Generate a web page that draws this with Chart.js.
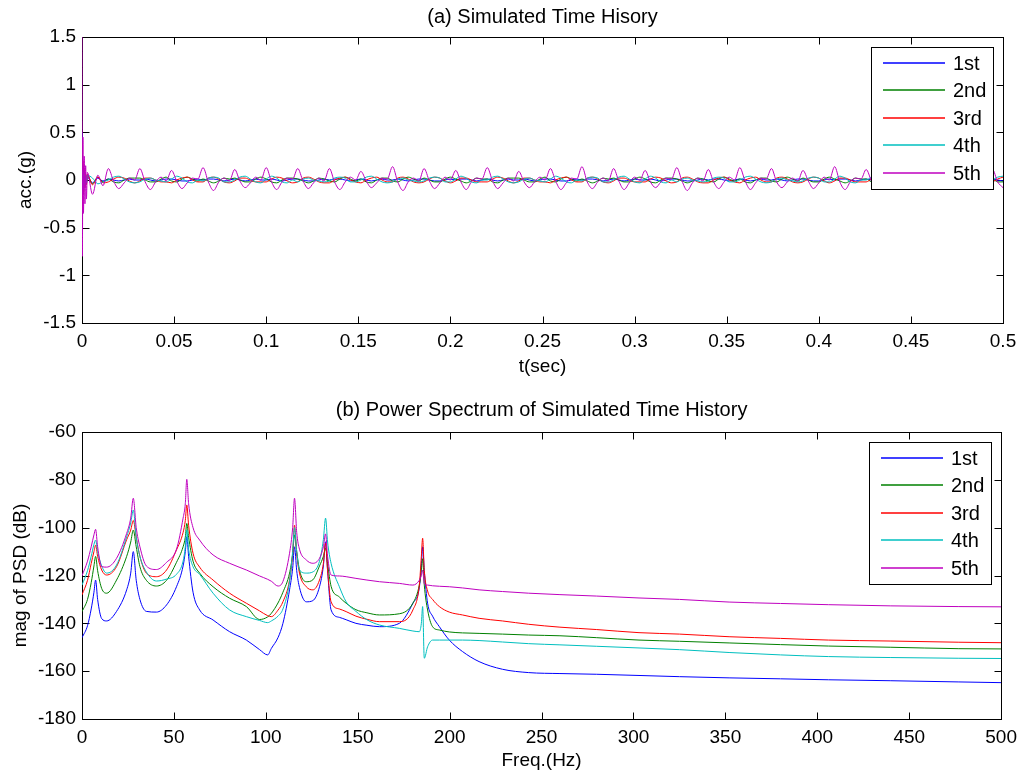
<!DOCTYPE html>
<html>
<head>
<meta charset="utf-8">
<title>Simulated Time History</title>
<script src="https://cdn.jsdelivr.net/npm/chart.js@4.4.0/dist/chart.umd.min.js"></script>
<style>
  body { margin: 0; background: #fff; }
  #wrap { position: relative; width: 1024px; height: 776px; }
  #timeChart { position: absolute; left: 0; top: 0; }
  #psdChart { position: absolute; left: 0; top: 388px; }
</style>
</head>
<body>
<div id="wrap">
  <canvas id="timeChart" width="1024" height="388"></canvas>
  <canvas id="psdChart" width="1024" height="388"></canvas>
</div>
<script>
const modeNames = ['1st', '2nd', '3rd', '4th', '5th'];

// (a) time history, seconds
const timeSec = [
  0, 0.0002, 0.0005, 0.0008, 0.0012, 0.0016, 0.002, 0.0024,
  0.0029, 0.0057, 0.0086, 0.0114, 0.0143, 0.0171, 0.02,
  0.0229, 0.0257, 0.0286, 0.0314, 0.0343, 0.0371, 0.04,
  0.0429, 0.0457, 0.0486, 0.0514, 0.0543, 0.0571, 0.06,
  0.0629, 0.0657, 0.0686, 0.0714, 0.0743, 0.0771, 0.08,
  0.0829, 0.0857, 0.0886, 0.0914, 0.0943, 0.0971, 0.1,
  0.1029, 0.1057, 0.1086, 0.1114, 0.1143, 0.1171, 0.12,
  0.1229, 0.1257, 0.1286, 0.1314, 0.1343, 0.1371, 0.14,
  0.1429, 0.1457, 0.1486, 0.1514, 0.1543, 0.1571, 0.16,
  0.1629, 0.1657, 0.1686, 0.1714, 0.1743, 0.1771, 0.18,
  0.1829, 0.1857, 0.1886, 0.1914, 0.1943, 0.1971, 0.2,
  0.2029, 0.2057, 0.2086, 0.2114, 0.2143, 0.2171, 0.22,
  0.2229, 0.2257, 0.2286, 0.2314, 0.2343, 0.2371, 0.24,
  0.2429, 0.2457, 0.2486, 0.2514, 0.2543, 0.2571, 0.26,
  0.2629, 0.2657, 0.2686, 0.2714, 0.2743, 0.2771, 0.28,
  0.2829, 0.2857, 0.2886, 0.2914, 0.2943, 0.2971, 0.3,
  0.3029, 0.3057, 0.3086, 0.3114, 0.3143, 0.3171, 0.32,
  0.3229, 0.3257, 0.3286, 0.3314, 0.3343, 0.3371, 0.34,
  0.3429, 0.3457, 0.3486, 0.3514, 0.3543, 0.3571, 0.36,
  0.3629, 0.3657, 0.3686, 0.3714, 0.3743, 0.3771, 0.38,
  0.3829, 0.3857, 0.3886, 0.3914, 0.3943, 0.3971, 0.4,
  0.4029, 0.4057, 0.4086, 0.4114, 0.4143, 0.4171, 0.42,
  0.4229, 0.4257, 0.4286, 0.4314, 0.4343, 0.4371, 0.44,
  0.4429, 0.4457, 0.4486, 0.4514, 0.4543, 0.4571, 0.46,
  0.4629, 0.4657, 0.4686, 0.4714, 0.4743, 0.4771, 0.48,
  0.4829, 0.4857, 0.4886, 0.4914, 0.4943, 0.4971, 0.5
];

const accel1st = [
  0.5, -0.25, 0.15, -0.1, 0.08, -0.06, 0.05, -0.04,
  0.03, -0.03, 0.02, -0.01,
  0.01, 0, -0.01, 0, 0.01, 0,
  0, 0.01, 0, -0.01, 0, 0.01,
  0.01, 0, -0.01, -0.01, 0, 0.01,
  0, 0.01, 0.01, 0, -0.01, 0,
  0.01, 0, -0.01, 0, 0.01, 0,
  0, 0.01, 0, -0.01, 0, 0.01,
  0.01, 0, -0.01, -0.01, 0, 0.01,
  0, 0.01, 0.01, 0, -0.01, 0,
  0.01, 0, -0.01, 0, 0.01, 0,
  0, 0.01, 0, -0.01, 0, 0.01,
  0.01, 0, -0.01, -0.01, 0, 0.01,
  0, 0.01, 0.01, 0, -0.01, 0,
  0.01, 0, -0.01, 0, 0.01, 0,
  0, 0.01, 0, -0.01, 0, 0.01,
  0.01, 0, -0.01, -0.01, 0, 0.01,
  0, 0.01, 0.01, 0, -0.01, 0,
  0.01, 0, -0.01, 0, 0.01, 0,
  0, 0.01, 0, -0.01, 0, 0.01,
  0.01, 0, -0.01, -0.01, 0, 0.01,
  0, 0.01, 0.01, 0, -0.01, 0,
  0.01, 0, -0.01, 0, 0.01, 0,
  0, 0.01, 0, -0.01, 0, 0.01,
  0.01, 0, -0.01, -0.01, 0, 0.01,
  0, 0.01, 0.01, 0, -0.01, 0,
  0.01, 0, -0.01, 0, 0.01, 0,
  0, 0.01, 0, -0.01, 0, 0.01,
  0.01, 0, -0.01, -0.01, 0, 0.01,
  0, 0.01, 0.01, 0, -0.01, 0,
  0.01, 0, -0.01
];

const accel2nd = [
  0.3, -0.2, 0.1, -0.12, 0.06, -0.05, 0.04, -0.03,
  0.05, -0.04, 0.03, -0.02,
  0.01, -0.02, -0.03, 0, 0.02, 0.02,
  0.02, 0, -0.02, -0.02, 0.01, 0.03,
  -0.01, -0.02, 0.01, 0.03, 0.01, -0.01,
  0.01, -0.01, -0.03, -0.01, 0.02, 0.01,
  0.02, 0, -0.02, -0.02, 0.01, 0.03,
  0.01, -0.02, -0.03, 0, 0.02, 0.02,
  0.01, -0.01, -0.03, -0.01, 0.02, 0.01,
  -0.01, -0.02, 0.01, 0.03, 0.01, -0.01,
  0.01, -0.02, -0.03, 0, 0.02, 0.02,
  -0.01, -0.02, 0.01, 0.03, 0.01, -0.01,
  0.02, 0, -0.02, -0.02, 0.01, 0.03,
  0.01, -0.01, -0.03, -0.01, 0.02, 0.01,
  0.01, -0.02, -0.03, 0, 0.02, 0.02,
  0.02, 0, -0.02, -0.02, 0.01, 0.03,
  -0.01, -0.02, 0.01, 0.03, 0.01, -0.01,
  0.01, -0.01, -0.03, -0.01, 0.02, 0.01,
  0.02, 0, -0.02, -0.02, 0.01, 0.03,
  0.01, -0.02, -0.03, 0, 0.02, 0.02,
  0.01, -0.01, -0.03, -0.01, 0.02, 0.01,
  -0.01, -0.02, 0.01, 0.03, 0.01, -0.01,
  0.01, -0.02, -0.03, 0, 0.02, 0.02,
  -0.01, -0.02, 0.01, 0.03, 0.01, -0.01,
  0.02, 0, -0.02, -0.02, 0.01, 0.03,
  0.01, -0.01, -0.03, -0.01, 0.02, 0.01,
  0.01, -0.02, -0.03, 0, 0.02, 0.02,
  0.02, 0, -0.02, -0.02, 0.01, 0.03,
  -0.01, -0.02, 0.01, 0.03, 0.01, -0.01,
  0.01, -0.01, -0.03, -0.01, 0.02, 0.01,
  0.01, -0.02, -0.02
];

const accel3rd = [
  0.4, -0.3, 0.2, -0.15, 0.1, -0.08, 0.06, -0.05,
  0.06, -0.05, 0.03, -0.03,
  -0.02, 0.01, 0.03, 0.02, -0.01, -0.03,
  -0.01, 0.02, 0.02, 0, -0.02, -0.02,
  -0.03, 0, 0.02, 0.03, 0, -0.02,
  -0.02, 0.02, 0.03, 0.01, -0.02, -0.03,
  -0.01, 0.02, 0.02, 0, -0.02, -0.02,
  -0.02, 0.01, 0.03, 0.02, -0.01, -0.03,
  -0.02, 0.02, 0.03, 0.01, -0.02, -0.03,
  -0.03, 0, 0.02, 0.03, 0, -0.02,
  -0.03, 0, 0.02, 0.03, 0, -0.02,
  -0.02, 0.02, 0.03, 0.01, -0.02, -0.03,
  -0.02, 0.01, 0.03, 0.02, -0.01, -0.03,
  -0.01, 0.02, 0.02, 0, -0.02, -0.02,
  -0.02, 0.01, 0.03, 0.02, -0.01, -0.03,
  -0.01, 0.02, 0.02, 0, -0.02, -0.02,
  -0.03, 0, 0.02, 0.03, 0, -0.02,
  -0.02, 0.02, 0.03, 0.01, -0.02, -0.03,
  -0.01, 0.02, 0.02, 0, -0.02, -0.02,
  -0.02, 0.01, 0.03, 0.02, -0.01, -0.03,
  -0.02, 0.02, 0.03, 0.01, -0.02, -0.03,
  -0.03, 0, 0.02, 0.03, 0, -0.02,
  -0.03, 0, 0.02, 0.03, 0, -0.02,
  -0.02, 0.02, 0.03, 0.01, -0.02, -0.03,
  -0.02, 0.01, 0.03, 0.02, -0.01, -0.03,
  -0.01, 0.02, 0.02, 0, -0.02, -0.02,
  -0.02, 0.01, 0.03, 0.02, -0.01, -0.03,
  -0.01, 0.02, 0.02, 0, -0.02, -0.02,
  -0.03, 0, 0.02, 0.03, 0, -0.02,
  -0.02, 0.02, 0.03, 0.01, -0.02, -0.03,
  -0.02, 0.01, 0.03
];

const accel4th = [
  0.2, -0.15, 0.1, -0.1, 0.06, -0.05, 0.04, -0.03,
  0.05, 0.02, -0.04, -0.02,
  0, 0.03, 0.04, 0.01, -0.02, -0.03,
  -0.02, 0.01, 0.02, 0, -0.01, -0.02,
  0.01, 0.04, 0.02, -0.02, -0.03, 0,
  -0.01, 0.02, 0.03, 0.02, -0.02, -0.02,
  0, 0.03, 0.04, 0.01, -0.02, -0.03,
  0.01, 0.04, 0.02, -0.02, -0.03, 0,
  -0.02, 0.01, 0.02, 0, -0.01, -0.02,
  -0.01, 0.02, 0.03, 0.02, -0.02, -0.02,
  0, 0.03, 0.04, 0.01, -0.02, -0.03,
  -0.02, 0.01, 0.02, 0, -0.01, -0.02,
  -0.01, 0.02, 0.03, 0.02, -0.02, -0.02,
  0.01, 0.04, 0.02, -0.02, -0.03, 0,
  0, 0.03, 0.04, 0.01, -0.02, -0.03,
  -0.02, 0.01, 0.02, 0, -0.01, -0.02,
  0.01, 0.04, 0.02, -0.02, -0.03, 0,
  -0.01, 0.02, 0.03, 0.02, -0.02, -0.02,
  0, 0.03, 0.04, 0.01, -0.02, -0.03,
  0.01, 0.04, 0.02, -0.02, -0.03, 0,
  -0.02, 0.01, 0.02, 0, -0.01, -0.02,
  -0.01, 0.02, 0.03, 0.02, -0.02, -0.02,
  0, 0.03, 0.04, 0.01, -0.02, -0.03,
  -0.02, 0.01, 0.02, 0, -0.01, -0.02,
  -0.01, 0.02, 0.03, 0.02, -0.02, -0.02,
  0.01, 0.04, 0.02, -0.02, -0.03, 0,
  0, 0.03, 0.04, 0.01, -0.02, -0.03,
  -0.02, 0.01, 0.02, 0, -0.01, -0.02,
  0.01, 0.04, 0.02, -0.02, -0.03, 0,
  -0.01, 0.02, 0.03, 0.02, -0.02, -0.02,
  0, 0.03, 0.04
];

const accel5th = [
  1.5, -0.8, 0.45, -0.35, 0.25, -0.25, 0.15, -0.2,
  0.08, -0.15, 0.05, -0.06,
  0.12, -0.01, -0.09, -0.03, 0.02, 0,
  0.12, -0.02, -0.1, -0.02, 0.03, -0.01,
  0.1, -0.01, -0.09, -0.03, 0.02, 0.01,
  0.13, -0.02, -0.11, -0.02, 0.02, -0.01,
  0.11, -0.01, -0.08, -0.03, 0.03, 0,
  0.13, -0.02, -0.1, -0.02, 0.02, 0.01,
  0.12, -0.01, -0.09, -0.03, 0.02, -0.01,
  0.12, -0.02, -0.1, -0.02, 0.03, 0,
  0.09, -0.01, -0.08, -0.03, 0.02, 0.01,
  0.14, -0.02, -0.11, -0.02, 0.02, -0.01,
  0.12, -0.01, -0.09, -0.03, 0.03, 0,
  0.1, -0.02, -0.1, -0.02, 0.02, 0.01,
  0.13, -0.01, -0.09, -0.03, 0.02, -0.01,
  0.09, -0.02, -0.08, -0.02, 0.03, 0,
  0.12, -0.01, -0.1, -0.03, 0.02, 0.01,
  0.14, -0.02, -0.09, -0.02, 0.02, -0.01,
  0.12, -0.01, -0.1, -0.03, 0.03, 0,
  0.1, -0.02, -0.08, -0.02, 0.02, 0.01,
  0.13, -0.01, -0.11, -0.03, 0.02, -0.01,
  0.11, -0.02, -0.09, -0.02, 0.03, 0,
  0.13, -0.01, -0.1, -0.03, 0.02, 0.01,
  0.12, -0.02, -0.08, -0.02, 0.02, -0.01,
  0.1, -0.01, -0.09, -0.03, 0.03, 0,
  0.14, -0.02, -0.1, -0.02, 0.02, 0.01,
  0.11, -0.01, -0.09, -0.03, 0.02, -0.01,
  0.13, -0.02, -0.1, -0.02, 0.03, 0,
  0.1, -0.01, -0.08, -0.03, 0.02, 0.01,
  0.12, -0.02, -0.1, -0.02, 0.02, -0.01,
  0.11, -0.02, -0.08
];

const timeTickLabels = ['0', '0.05', '0.1', '0.15', '0.2', '0.25', '0.3', '0.35', '0.4', '0.45', '0.5'];
const accTickLabels = ['-1.5', '-1', '-0.5', '0', '0.5', '1', '1.5'];

// (b) power spectrum, Hz / dB
const freqHz = [
  0, 3, 5, 6.5, 7.4, 8.5, 10.7, 13.4, 18.8, 24.3,
  26.5, 27.9, 29.5, 31.5, 35, 40.5, 46, 51.4, 55, 56.2,
  57, 58, 60.4, 64, 71.3, 80.3, 89.4, 96.6, 101, 103,
  106.6, 109.3, 112.9, 114.6, 115.6, 116.8, 118.3, 122, 125.6, 129.2,
  131.3, 132.5, 133.6, 135.5, 140, 143.7, 149, 155, 161.8, 172.6,
  180, 183.5, 184.6, 185.3, 186.2, 188, 190.7, 194.4, 199.8, 207,
  216, 228.7, 243, 260, 280, 303, 325, 352, 380, 406,
  440, 477, 500
];

const psd1st = [
  -146, -141, -134, -127, -121.9, -130, -138, -139, -135, -126,
  -119, -110, -122, -130, -135, -135.3, -132.3, -124.7, -116, -110,
  -103.8, -112, -127, -134.4, -138.6, -143.5, -147, -151, -153.2, -150.5,
  -146, -140, -126, -117, -108, -118, -125, -131, -130.5, -124.7,
  -116, -105.9, -118, -134.4, -137.5, -138.5, -140, -140.8, -141.4, -140,
  -131.6, -125, -116, -108, -118, -131.6, -137, -141.4, -147, -151.8,
  -156, -159.2, -160.6, -161, -161.3, -161.8, -162.3, -162.8, -163.2, -163.6,
  -164, -164.5, -164.8
];

const psd2nd = [
  -135.1, -130, -123, -116, -112, -118, -125.4, -127.4, -121.9, -112,
  -106, -101, -108, -116.3, -122, -124.4, -122, -114.5, -108, -104,
  -98.2, -104, -114, -119, -124.7, -129.5, -133, -138.4, -137.3, -135.8,
  -131.5, -127, -119, -111, -103, -110, -117.7, -122.6, -121.8, -116,
  -112, -108.6, -115, -124.5, -129, -131.6, -134.3, -135.6, -136.5, -136,
  -131.6, -124, -118, -113, -124, -134.4, -141.4, -142.8, -143.6, -144,
  -144.2, -144.5, -144.9, -145.2, -146, -147, -147.5, -148.2, -148.9, -149.5,
  -150, -150.6, -150.7
];

const psd3rd = [
  -128.1, -122, -115, -110, -107.3, -112, -117.7, -119.8, -116.3, -105,
  -101, -97, -104, -112, -119, -120.5, -117.7, -109.3, -102, -97,
  -90.5, -99, -110.7, -116.5, -121.9, -127.4, -131.6, -134.8, -136.8, -137.2,
  -134.5, -131, -121.9, -111, -99, -111, -119, -124.7, -126, -121.9,
  -115, -106.5, -118, -131, -134, -135.1, -137, -138.3, -139.3, -139.3,
  -134.4, -124, -112, -104.4, -118, -126.5, -130, -133, -135.3, -136.5,
  -137.9, -139, -140.4, -141.6, -142.6, -143.9, -144.5, -145.6, -146.3, -147,
  -147.4, -147.9, -148.1
];

const psd4th = [
  -124, -118, -112, -107, -105.2, -110, -116, -119, -115.6, -103.8,
  -98, -92.6, -104, -112, -118.5, -122.3, -121.5, -119.5, -114, -108,
  -101, -109, -116.3, -119.5, -127.4, -134.4, -137.2, -138.8, -139.7, -139,
  -137, -134, -122.6, -110, -100, -110, -117.7, -119, -118.5, -114,
  -105, -96, -106, -114.9, -124.7, -131, -135, -138.5, -140.7, -142.1,
  -143.2, -143.5, -140, -133, -154.6, -149.8, -147, -147, -147, -147,
  -147.2, -147.8, -148.5, -149, -149.6, -150.3, -151, -152.2, -153.2, -153.9,
  -154.3, -154.6, -154.7
];

const psd5th = [
  -120.1, -114, -108, -103, -100.7, -108, -116.3, -116.5, -112.8, -102.4,
  -96, -87.7, -100, -108, -116, -117.5, -114.5, -109, -96, -90,
  -79.8, -90, -100, -105.2, -111.4, -114.9, -117.7, -120.2, -121.6, -122.4,
  -124.4, -122.5, -110.7, -100, -87.7, -102, -109, -113.5, -114.9, -112.8,
  -108, -102.6, -112, -119.8, -120.2, -120.5, -121.2, -121.9, -122.6, -123.3,
  -124, -122, -120, -117.7, -123.5, -124, -124.3, -124.5, -124.7, -125.2,
  -126, -126.7, -127.4, -128, -128.6, -129.4, -130, -131.1, -131.7, -132.2,
  -132.7, -133, -133.1
];

const freqTickLabels = ['0', '50', '100', '150', '200', '250', '300', '350', '400', '450', '500'];
const dbTickLabels = ['-180', '-160', '-140', '-120', '-100', '-80', '-60'];

// matlab-ish line colours
const lineColors = ['#0000ff', '#008000', '#ff0000', '#00bfbf', '#bf00bf'];

Chart.defaults.font.family = '"Liberation Sans", Arial, Helvetica, sans-serif';
Chart.defaults.font.size = 19;
Chart.defaults.color = '#000';

// axes box + inward ticks on all four sides (under the lines), boxed legend on top
const framePlugin = {
  id: 'frame',
  beforeDatasetsDraw(chart) {
    const ctx = chart.ctx;
    const a = chart.chartArea;
    const xs = chart.scales.x, ys = chart.scales.y;
    const L = Math.round(a.left) + 0.5, R = Math.round(a.right) + 0.5;
    const T = Math.round(a.top) + 0.5, B = Math.round(a.bottom) + 0.5;
    ctx.save();
    ctx.strokeStyle = '#000';
    ctx.lineWidth = 1;
    ctx.beginPath();
    xs.ticks.forEach(function (t) {
      const px = Math.round(xs.getPixelForValue(t.value)) + 0.5;
      ctx.moveTo(px, B); ctx.lineTo(px, B - 7);
      ctx.moveTo(px, T); ctx.lineTo(px, T + 7);
    });
    ys.ticks.forEach(function (t) {
      const py = Math.round(ys.getPixelForValue(t.value)) + 0.5;
      ctx.moveTo(L, py); ctx.lineTo(L + 7, py);
      ctx.moveTo(R, py); ctx.lineTo(R - 7, py);
    });
    ctx.stroke();
    ctx.strokeRect(L, T, R - L, B - T);
    ctx.restore();
  },
  afterDraw(chart) {
    const ctx = chart.ctx;
    const a = chart.chartArea;
    const boxW = 122, boxH = 142;
    const bx = Math.round(a.right) - 10 - boxW;
    const by = Math.round(a.top) + 10;
    ctx.save();
    ctx.fillStyle = '#fff';
    ctx.fillRect(bx, by, boxW, boxH);
    ctx.strokeStyle = '#000';
    ctx.lineWidth = 1;
    ctx.strokeRect(bx + 0.5, by + 0.5, boxW, boxH);
    ctx.font = '20px "Liberation Sans", Arial, sans-serif';
    ctx.textBaseline = 'middle';
    chart.data.datasets.forEach(function (ds, i) {
      const ly = Math.round(by + 16 + i * 27.4);
      ctx.strokeStyle = lineColors[i];
      ctx.lineWidth = 1.6;
      ctx.beginPath();
      ctx.moveTo(bx + 12, ly);
      ctx.lineTo(bx + 74, ly);
      ctx.stroke();
      ctx.fillStyle = '#000';
      ctx.fillText(ds.label, bx + 82, ly + 1);
    });
    ctx.restore();
  }
};

function makeDatasets(series) {
  return series.map(function (vals, i) {
    return {
      label: modeNames[i],
      data: vals,
      borderColor: lineColors[i],
      borderWidth: 1,
      pointRadius: 0,
      cubicInterpolationMode: 'monotone',
      order: series.length - i
    };
  });
}

function makeOptions(o) {
  return {
    responsive: false,
    animation: false,
    events: [],
    layout: { padding: { left: 0, right: 21, top: 0, bottom: 0 } },
    plugins: {
      legend: { display: false },
      tooltip: { enabled: false },
      title: {
        display: true,
        text: o.title,
        fullSize: false,
        color: '#000',
        font: { size: 20, weight: 'normal' },
        padding: o.titlePad
      }
    },
    scales: {
      x: {
        type: 'linear',
        min: o.xMin, max: o.xMax,
        grid: { display: false, drawTicks: false },
        border: { display: false },
        ticks: {
          stepSize: o.xStep, padding: 7, maxRotation: 0, autoSkip: false,
          callback: function (v, i) { return o.xLabels[i]; }
        },
        title: { display: true, text: o.xTitle, padding: { top: 0, bottom: o.xTitlePad } },
        afterFit: function (s) { s.height = o.xHeight; }
      },
      y: {
        min: o.yMin, max: o.yMax,
        grid: { display: false, drawTicks: false },
        border: { display: false },
        ticks: {
          stepSize: o.yStep, padding: 6, autoSkip: false,
          callback: function (v, i) { return o.yLabels[i]; }
        },
        title: { display: true, text: o.yTitle, padding: { top: o.yTitlePad, bottom: 0 } },
        afterFit: function (s) { s.width = 82; }
      }
    }
  };
}

new Chart(document.getElementById('timeChart'), {
  type: 'line',
  data: {
    labels: timeSec,
    datasets: makeDatasets([accel1st, accel2nd, accel3rd, accel4th, accel5th])
  },
  options: makeOptions({
    title: '(a) Simulated Time Hisory', titlePad: { top: 5, bottom: 8 },
    xMin: 0, xMax: 0.5, xStep: 0.05, xLabels: timeTickLabels, xTitle: 't(sec)', xTitlePad: 10, xHeight: 65,
    yMin: -1.5, yMax: 1.5, yStep: 0.5, yLabels: accTickLabels, yTitle: 'acc.(g)', yTitlePad: 14
  }),
  plugins: [framePlugin]
});

new Chart(document.getElementById('psdChart'), {
  type: 'line',
  data: {
    labels: freqHz,
    datasets: makeDatasets([psd1st, psd2nd, psd3rd, psd4th, psd5th])
  },
  options: makeOptions({
    title: '(b) Power Spectrum of Simulated Time History', titlePad: { top: 10, bottom: 10 },
    xMin: 0, xMax: 500, xStep: 50, xLabels: freqTickLabels, xTitle: 'Freq.(Hz)', xTitlePad: 4, xHeight: 57,
    yMin: -180, yMax: -60, yStep: 20, yLabels: dbTickLabels, yTitle: 'mag of PSD (dB)', yTitlePad: 9
  }),
  plugins: [framePlugin]
});
</script>
</body>
</html>
